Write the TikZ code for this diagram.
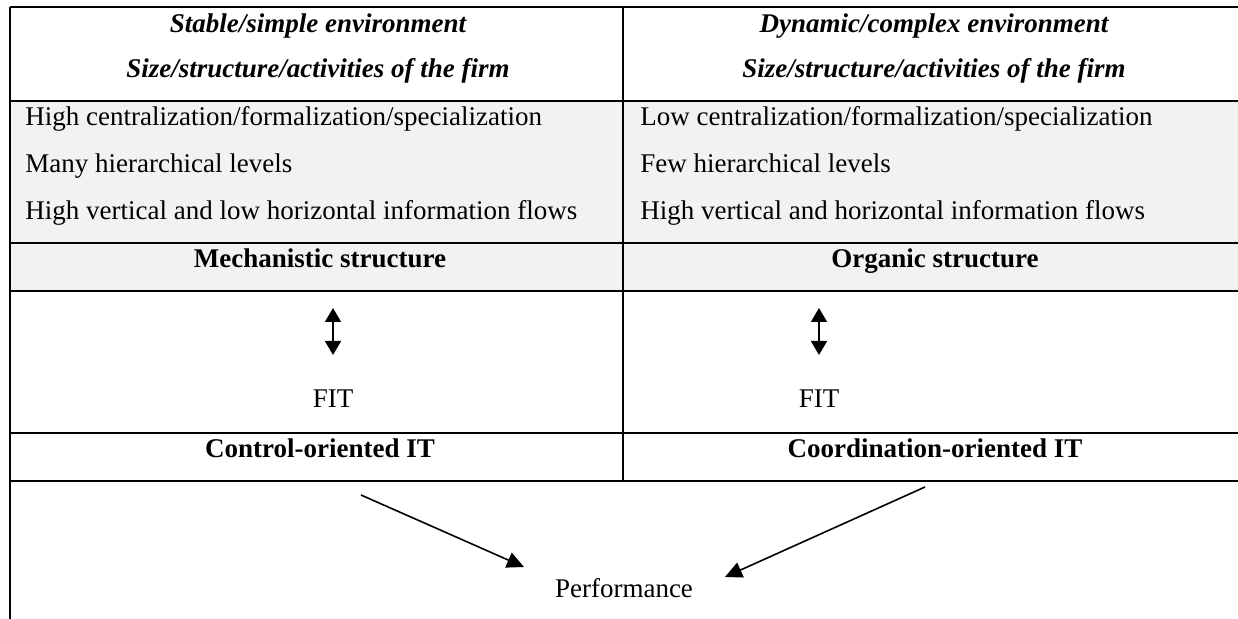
\documentclass[tikz,border=0pt]{standalone}
\usepackage{fontspec}
\setmainfont{Liberation Serif}
\usepackage{tikz}
\usetikzlibrary{
	positioning,
	arrows.meta
}

\definecolor{cellgrey}{HTML}{F2F2F2}

\tikzset{
	txt/.style={inner sep=0pt,anchor=base,font=\fontsize{13.5}{16}\selectfont},
	txtl/.style={txt,anchor=base west},
	head/.style={txt,font=\fontsize{13.5}{16}\selectfont\bfseries\itshape},
	bold/.style={txt,font=\fontsize{13.5}{16}\selectfont\bfseries},
	rule/.style={line width=1.1pt},
	fitarrow/.style={line width=0.8pt,{Triangle[width=8pt,length=7pt]}-{Triangle[width=8pt,length=7pt]}},
	perfarrow/.style={line width=0.8pt,-{Triangle[width=8pt,length=8.5pt]}}
}

\begin{document}
\begin{tikzpicture}[x=0.5pt,y=-0.5pt]
		\useasboundingbox (0,0) rectangle (1238,619);

		% grey band
		\fill[cellgrey] (10,101) rectangle (1238,291);

		% table rules
		\foreach \y in {7,101,243,291,433,481}
			\draw[rule] (10,\y) -- (1238,\y);
		\draw[rule] (10,7) -- (10,619);
		\draw[rule] (623,7) -- (623,481);

		\draw
			node[head]  (envL)  at (318,33)  {Stable/simple environment}
			node[head]  (sizeL) at (318,78)  {Size/structure/activities of the firm}
			node[head]  (envR)  at (934,33)  {Dynamic/complex environment}
			node[head]  (sizeR) at (934,78)  {Size/structure/activities of the firm}

			node[txtl]  (cenL)  at (25,126)  {High centralization/formalization/specialization}
			node[txtl]  (levL)  at (25,173)  {Many hierarchical levels}
			node[txtl]  (flowL) at (25,220)  {High vertical and low horizontal information flows}
			node[txtl]  (cenR)  at (640,126) {Low centralization/formalization/specialization}
			node[txtl]  (levR)  at (640,173) {Few hierarchical levels}
			node[txtl]  (flowR) at (640,220) {High vertical and horizontal information flows}

			node[bold]  (mech)  at (320,268) {Mechanistic structure}
			node[bold]  (org)   at (935,268) {Organic structure}

			node[txt]   (fitL)  at (333,408) {FIT}
			node[txt]   (fitR)  at (819,408) {FIT}

			node[bold]  (ctrl)  at (320,458) {Control-oriented IT}
			node[bold]  (coord) at (935,458) {Coordination-oriented IT}

			node[txt]   (perf)  at (624,598) {Performance}
		;

		\coordinate (fitLtop) at (333,308);
		\coordinate (fitLbot) at (333,355);
		\coordinate (fitRtop) at (819,308);
		\coordinate (fitRbot) at (819,355);
		\coordinate (ctrlout)  at (361,495);
		\coordinate (coordout) at (925,487);
		\coordinate (perfinL)  at (524,567);
		\coordinate (perfinR)  at (725,577);

		\draw[fitarrow] (fitLtop) -- (fitLbot);
		\draw[fitarrow] (fitRtop) -- (fitRbot);
		\draw[perfarrow] (ctrlout) -- (perfinL);
		\draw[perfarrow] (coordout) -- (perfinR);
	\end{tikzpicture}
\end{document}
